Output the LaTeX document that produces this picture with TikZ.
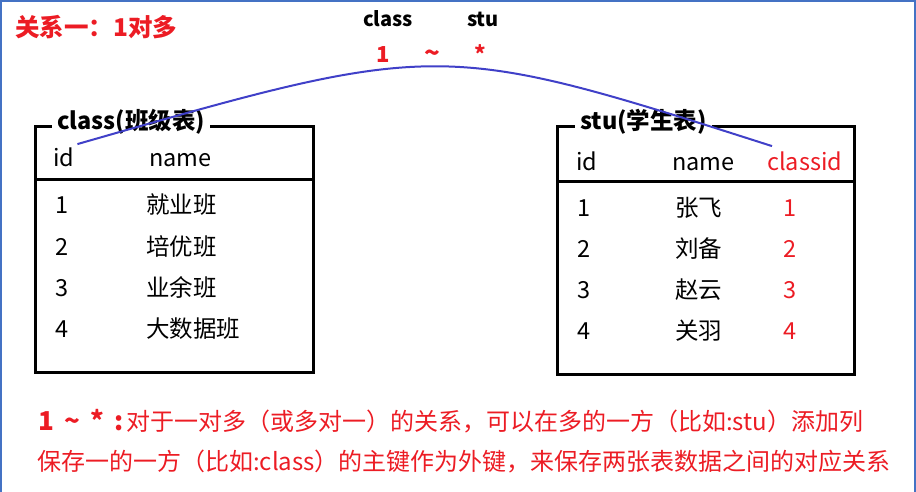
\documentclass[tikz,border=0pt]{standalone}
\usepackage{fontspec}
\setmainfont{Noto Sans CJK SC}
\definecolor{relred}{RGB}{236,28,36}
\definecolor{linkblue}{RGB}{64,64,200}
\definecolor{frameblue}{RGB}{68,114,196}
\newcommand{\fsz}[1]{\fontsize{#1}{#1}\selectfont}
\begin{document}
\begin{tikzpicture}[x=1pt,y=-1pt,
  txt/.style={inner sep=0pt,anchor=base west,font=\fsz{23.5}},
  ttl/.style={inner sep=0pt,inner xsep=5pt,anchor=west,fill=white,font=\bfseries\fsz{23.5}},
  tab/.style={draw,line width=3pt,inner sep=0pt,outer sep=0pt,anchor=north west},
  key/.style={inner sep=0pt,anchor=base,text=relred,font=\bfseries\fsz{22}}]
\useasboundingbox (0,0) rectangle (916,492);
\draw[frameblue,line width=2pt] (1,492) -- (1,1) -- (915,1) -- (915,492);
% heading
\node[inner sep=0pt,anchor=base west,text=relred,font=\bfseries\fsz{24.5}] (reltitle) at (15,37) {关系一：1对多};
\node[key,text=black,font=\bfseries\fsz{20}] (lclass) at (388,27) {class};
\node[key,text=black,font=\bfseries\fsz{20}] (lstu) at (483,27) {stu};
\node[key] (kone) at (383,63) {1};
\node[key,font=\bfseries\fsz{26}] (ktilde) at (432,63) {\textasciitilde};
\node[key] (kstar) at (480,63) {*};
% class table
\node[tab,minimum width=278pt,minimum height=245pt] (classtab) at (35,127) {};
\draw[line width=3pt] (classtab.west |- 0,180) -- (classtab.east |- 0,180);
\node[ttl] (classttl) at (52,122) {class(班级表)};
\node[txt] (cid) at (53,167) {id};
\node[txt] (cname) at (149,167) {name};
\foreach \n/\nm [count=\i] in {1/就业班,2/培优班,3/业余班,4/大数据班} {
  \node[txt] (cr\i) at (55,{173+41*\i}) {\n};
  \node[txt] (cn\i) at (146,{173+41*\i}) {\nm};
}
% stu table
\node[tab,minimum width=297pt,minimum height=247pt] (stutab) at (557,127) {};
\draw[line width=3pt] (stutab.west |- 0,182) -- (stutab.east |- 0,182);
\node[ttl] (stuttl) at (575,122) {stu(学生表)};
\node[txt] (sid) at (576,171) {id};
\node[txt] (sname) at (672,171) {name};
\node[txt,text=relred] (sclassid) at (767,171) {classid};
\foreach \nm [count=\i] in {张飞,刘备,赵云,关羽} {
  \node[txt] (sr\i) at (577,{175+41*\i}) {\i};
  \node[txt] (sn\i) at (675,{175+41*\i}) {\nm};
  \node[txt,anchor=base,text=relred] (sc\i) at (790,{175+41*\i}) {\i};
}
% link
\draw[linkblue,line width=2pt] ([xshift=3pt,yshift=4pt]cid.north east) .. controls (440,40) and (440,40) .. ([xshift=5pt,yshift=6pt]sclassid.north west);
% note
\node[inner sep=0pt,anchor=base west,text=relred,font=\bfseries\fsz{26}] (notekey) at (38,430) {1\, \textasciitilde\, *\, :};
\node[txt,text=relred,font=\fsz{24}] (noteone) at (126,430) {对于一对多（或多对一）的关系，可以在多的一方（比如:stu）添加列};
\node[txt,text=relred,font=\fsz{24}] (notetwo) at (37,470) {保存一的一方（比如:class）的主键作为外键，来保存两张表数据之间的对应关系};
\end{tikzpicture}
\end{document}
